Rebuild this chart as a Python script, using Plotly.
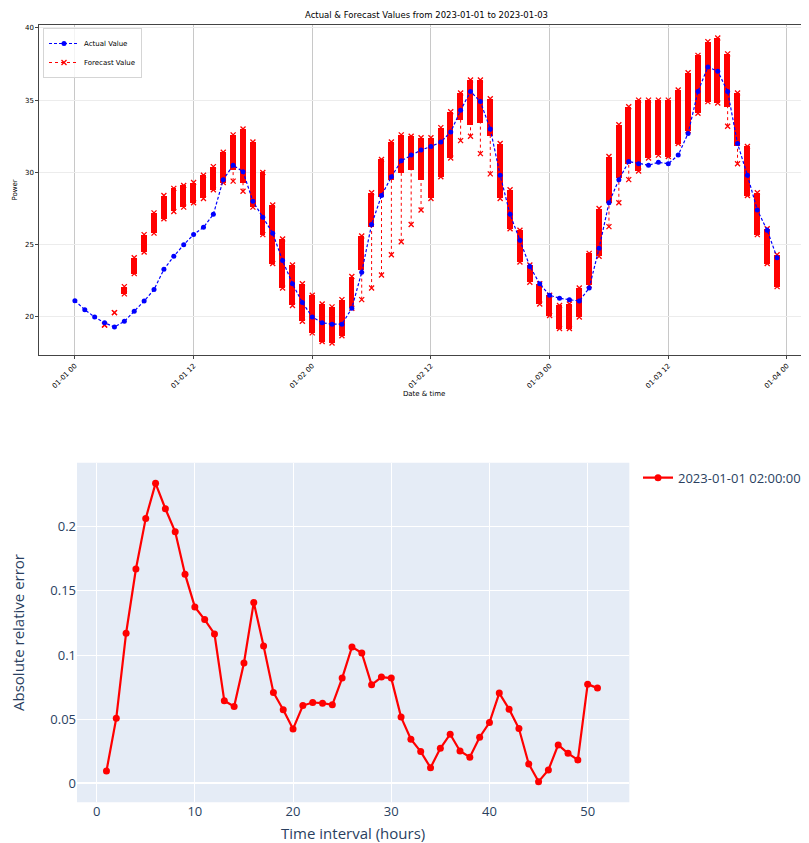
import pandas as pd
import plotly.graph_objects as go

# ---------------- data ----------------
start_time = "2023-01-01 00:00:00"
actual_values = [21.13, 20.5, 20.0, 19.6, 19.3, 19.7, 20.4, 21.1, 21.9, 23.3,
                 24.2, 25.0, 25.7, 26.2, 27.1, 29.5, 30.5, 30.05, 28.0, 26.9,
                 25.8, 23.9, 22.3, 21.0, 20.0, 19.6, 19.5, 19.5, 20.6, 23.1,
                 26.4, 28.4, 29.7, 30.8, 31.2, 31.55, 31.8, 32.1, 32.8, 34.3,
                 35.6, 34.9, 33.0, 29.8, 27.1, 25.3, 23.5, 22.3, 21.5, 21.3,
                 21.2, 21.1, 22.0, 24.75, 27.9, 29.5, 30.75, 30.6, 30.5, 30.7,
                 30.6, 31.2, 32.7, 35.6, 37.3, 37.0, 35.6, 32.0, 29.8, 27.4,
                 26.0, 24.1]

forecast_first_hour = 3
forecast_low = [19.45, 20.3, 21.6, 23.0, 24.5, 25.8, 26.8, 27.3, 27.6, 27.9,
                28.2, 28.8, 29.3, 29.4, 28.7, 27.6, 25.7, 23.7, 22.0, 20.8,
                19.7, 18.9, 18.3, 18.2, 18.7, 20.6, 21.2, 22.0, 22.9, 24.3,
                25.2, 26.4, 27.4, 28.2, 29.7, 31.0, 32.2, 32.5, 31.3, 29.9,
                28.2, 26.1, 23.8, 22.4, 20.9, 20.1, 19.2, 19.2, 20.0, 22.2,
                24.2, 26.25, 27.9, 29.5, 30.1, 31.0, 31.2, 31.1, 32.0, 32.9,
                34.1, 34.9, 34.8, 33.2, 30.6, 28.4, 25.7, 23.7, 22.1]
forecast_dense_low = [19.45, 20.3, 21.6, 23.0, 24.5, 25.8, 26.8, 27.3, 27.6, 27.9,
                      28.2, 28.8, 29.3, 30.2, 29.25, 27.6, 25.7, 23.7, 22.0, 20.8,
                      19.7, 18.9, 18.3, 18.2, 18.7, 20.6, 23.25, 26.25, 28.3, 29.5,
                      29.95, 30.2, 29.5, 28.2, 29.7, 31.0, 33.6, 33.3, 33.4, 32.5,
                      28.2, 26.1, 23.8, 22.4, 20.9, 20.1, 19.2, 19.2, 20.0, 22.2,
                      24.2, 27.9, 29.6, 30.6, 30.1, 31.0, 31.2, 31.1, 32.0, 32.9,
                      34.1, 34.9, 34.8, 34.55, 31.8, 28.4, 25.7, 23.7, 22.1]
forecast_high = [19.45, 20.3, 22.1, 24.1, 25.7, 27.2, 28.4, 28.9, 29.1, 29.3,
                 29.8, 30.4, 31.4, 32.6, 33.0, 32.1, 30.0, 27.75, 25.4, 23.6,
                 22.3, 21.5, 20.9, 20.7, 21.2, 22.8, 25.6, 28.6, 30.9, 32.1,
                 32.6, 32.5, 32.4, 32.4, 33.1, 34.2, 35.5, 36.4, 36.4, 35.1,
                 32.0, 28.8, 26.0, 23.6, 22.3, 21.5, 20.8, 20.9, 22.0, 24.4,
                 27.5, 31.1, 33.3, 34.55, 35.0, 35.0, 35.0, 35.0, 35.7, 36.9,
                 38.1, 39.05, 39.3, 38.2, 35.5, 31.8, 28.6, 26.1, 24.3]

error_intervals = list(range(1, 52))
error_values = [0.0096, 0.0508, 0.117, 0.167, 0.2065, 0.2338, 0.214, 0.196, 0.163, 0.1375,
                0.1276, 0.1164, 0.0643, 0.0599, 0.0938, 0.141, 0.107, 0.0708, 0.0573, 0.0424,
                0.0606, 0.063, 0.0625, 0.0612, 0.082, 0.1063, 0.1016, 0.0768, 0.0828, 0.082,
                0.0516, 0.0344, 0.0247, 0.0122, 0.0273, 0.0383, 0.0252, 0.0203, 0.0359, 0.0474,
                0.0703, 0.0578, 0.0427, 0.0151, 0.0013, 0.0104, 0.0299, 0.0234, 0.0182, 0.0773,
                0.0742]
error_series_name = "2023-01-01 02:00:00"

title_text = "Actual & Forecast Values from 2023-01-01 to 2023-01-03"

# ---------------- derived ----------------
t0 = pd.Timestamp(start_time)
times = [t0 + pd.Timedelta(hours=h) for h in range(len(actual_values))]
fc_times = [t0 + pd.Timedelta(hours=forecast_first_hour + i) for i in range(len(forecast_high))]

seg_x, seg_y = [], []
for t, lo, hi in zip(fc_times, forecast_low, forecast_high):
    seg_x += [t, t, None]
    seg_y += [lo, hi, None]

# page has an 8px body margin; figure fills the rest of the 809x843 window
OFF = 8
W, H = 809 - OFF, 843 - OFF


def fx(p):
    return min(1.0, max(0.0, (p - OFF) / W))


def fy(p):
    return min(1.0, max(0.0, 1 - (p - OFF) / H))


TOP_X = [fx(39.3), fx(812)]
TOP_Y = [fy(355), fy(25)]
BOT_X = [fx(77), fx(629.3)]
BOT_Y = [fy(802.3), fy(462.7)]

fig = go.Figure()

# dense forecast stacks
fig.add_trace(go.Bar(
    x=fc_times, y=[h - l for h, l in zip(forecast_high, forecast_dense_low)],
    base=forecast_dense_low, width=0.6 * 3600 * 1000,
    marker=dict(color="#ff0000", line=dict(width=0)),
    xaxis="x", yaxis="y", showlegend=False, hoverinfo="skip"))

fig.add_trace(go.Scatter(
    x=seg_x, y=seg_y, mode="lines+markers", name="Forecast Value",
    line=dict(color="#ff0000", width=1, dash="dot"),
    marker=dict(symbol="x-thin-open", size=5, line=dict(color="#ff0000", width=1.3)),
    xaxis="x", yaxis="y", legend="legend"))

fig.add_trace(go.Scatter(
    x=times, y=actual_values, mode="lines+markers", name="Actual Value",
    line=dict(color="#0000ff", width=1.2, dash="3px,2px"),
    marker=dict(symbol="circle", size=5, color="#0000ff"),
    xaxis="x", yaxis="y", legend="legend"))

fig.add_trace(go.Scatter(
    x=error_intervals, y=error_values, mode="lines+markers", name=error_series_name,
    line=dict(color="red", width=2.2), marker=dict(size=7, color="red"),
    xaxis="x2", yaxis="y2", legend="legend2"))

top_font = dict(family="DejaVu Sans", size=7, color="black")
x_lo = t0 + pd.Timedelta(hours=-3.6)
x_hi = t0 + pd.Timedelta(hours=-3.6 + (809 - 39.3) / 9.89)

fig.update_layout(
    width=W, height=H, autosize=False,
    margin=dict(l=0, r=0, t=0, b=0),
    template="plotly",
    font=dict(family="Open Sans", size=13),
    plot_bgcolor="white", paper_bgcolor="white",
    barmode="overlay", bargap=0,
    xaxis=dict(domain=TOP_X, anchor="y", type="date",
               range=[x_lo, x_hi], dtick=12 * 3600 * 1000, tick0=start_time,
               tickformat="%m-%d %H", tickangle=-45, tickfont=top_font,
               showgrid=True, gridcolor="#c8c8c8", gridwidth=1,
               showline=True, mirror=True, linecolor="#444", linewidth=1,
               ticks="outside", ticklen=3, tickcolor="#444", zeroline=False,
               title=dict(text="Date & time", font=top_font, standoff=2),
               automargin=False),
    yaxis=dict(domain=TOP_Y, anchor="x", range=[17.37, 40.2], dtick=5,
               tickfont=top_font, showgrid=True, gridcolor="#ececec",
               showline=True, mirror=True, linecolor="#444", linewidth=1,
               ticks="outside", ticklen=3, tickcolor="#444", zeroline=False,
               title=dict(text="Power", font=top_font, standoff=6),
               automargin=False),
    xaxis2=dict(domain=BOT_X, anchor="y2", range=[-2.0, 54.24],
                title=dict(text="Time interval (hours)", font=dict(size=15)),
                gridcolor="white", zeroline=False, automargin=False),
    yaxis2=dict(domain=BOT_Y, anchor="x2", range=[-0.0148, 0.2499],
                title=dict(text="Absolute relative error", font=dict(size=15), standoff=22),
                gridcolor="white", zerolinecolor="white", zerolinewidth=2,
                automargin=False),
    legend=dict(x=fx(43), y=fy(28), xanchor="left", yanchor="top",
                bgcolor="rgba(255,255,255,0.8)", bordercolor="#d5d5d5", borderwidth=1,
                font=dict(family="DejaVu Sans", size=7, color="black"),
                tracegroupgap=0, itemwidth=30, traceorder="reversed"),
    legend2=dict(x=fx(638), y=fy(462.7), xanchor="left", yanchor="top",
                 bgcolor="rgba(0,0,0,0)", font=dict(size=13)),
    shapes=[dict(type="rect", xref="x2 domain", yref="y2 domain",
                 x0=0, x1=1, y0=0, y1=1, fillcolor="#E5ECF6",
                 line=dict(width=0), layer="below")],
    annotations=[dict(text=title_text, xref="paper", yref="paper",
                      x=fx(426), y=fy(15),
                      xanchor="center", yanchor="middle", showarrow=False,
                      font=dict(family="DejaVu Sans", size=8.5, color="black"))],
)

fig.write_html("out.html")
